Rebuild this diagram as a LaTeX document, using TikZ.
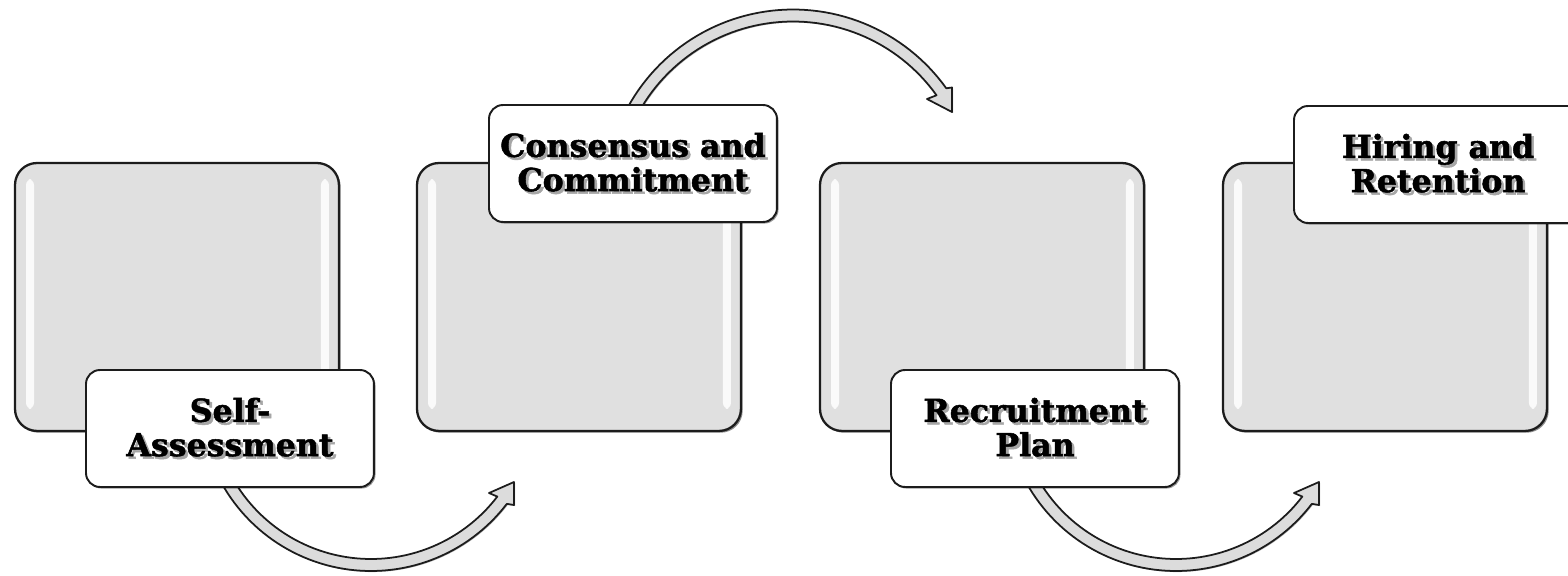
\documentclass[tikz,border=0pt]{standalone}
\usepackage{fontspec}
\setmainfont{DejaVu Serif}[BoldFeatures={FakeBold=1.6}]
\usetikzlibrary{shadows}
\definecolor{boxgray}{HTML}{E0E0E0}
\definecolor{arrowgray}{HTML}{DCDCDC}
\definecolor{edge}{HTML}{1C1C1C}
\newcommand\shtxt[1]{\leavevmode\rlap{\hspace{1.5pt}\raisebox{-1.5pt}{\textcolor{black!35}{#1}}}#1}
\begin{document}
\begin{tikzpicture}[x=0.02cm,y=-0.02cm,
  bigbox/.style={draw=edge, line width=1.3pt, fill=boxgray, rounded corners=0.44cm,
    minimum width=6.48cm, minimum height=5.36cm, inner sep=0pt, outer sep=0pt, anchor=north west,
    drop shadow={shadow xshift=1pt, shadow yshift=-1pt, opacity=0.45, fill=black}},
  lbl/.style={draw=edge, line width=1.1pt, fill=white, rounded corners=0.28cm,
    minimum width=5.76cm, minimum height=2.34cm, inner sep=0pt, outer sep=0pt, anchor=north west,
    align=center, font=\fontsize{18}{19.5}\selectfont\bfseries,
    drop shadow={shadow xshift=0.9pt, shadow yshift=-0.9pt, opacity=0.4, fill=black}},
  carrow/.style={draw=edge, line width=1pt, fill=arrowgray, line join=round,
    drop shadow={shadow xshift=0.6pt, shadow yshift=-0.6pt, opacity=0.3, fill=black}},
  gloss/.style={rounded corners=3.5pt, fill=white, opacity=0.85, draw=none}
]
\useasboundingbox (0,0) rectangle (1568,575);
\clip (0,0) rectangle (1568,575);
\fill[white] (0,0) rectangle (1568,575);

% main boxes
\node[bigbox] (b1) at (15,163) {};
\node[bigbox] (b2) at (417,163) {};
\node[bigbox] (b3) at (820,163) {};
\node[bigbox] (b4) at (1223,163) {};
\foreach \b in {b1,b2,b3,b4} {
  \path[gloss] ([shift={(11,16)}]\b.north west) rectangle ([shift={(19,-22)}]\b.south west);
  \path[gloss] ([shift={(-18,16)}]\b.north east) rectangle ([shift={(-10,-22)}]\b.south east);
}

% curved arrows
\draw[carrow] plot[domain=155:37.4, samples=60] ({371+171*cos(\x)},{400+171*sin(\x)})
  -- (514,505) -- (514,482) -- (489,493)
  -- plot[domain=37.4:155, samples=60] ({371+159*cos(\x)},{400+159*sin(\x)}) -- cycle;
\draw[carrow] plot[domain=205:324.4, samples=60] ({793+188.5*cos(\x)},{198+188.5*sin(\x)})
  -- (952,87.5) -- (952,112) -- (927,99)
  -- plot[domain=324.4:205, samples=60] ({793+176.5*cos(\x)},{198+176.5*sin(\x)}) -- cycle;
\begin{scope}[shift={(805,0)}]
\draw[carrow] plot[domain=155:37.4, samples=60] ({371+171*cos(\x)},{400+171*sin(\x)})
  -- (514,505) -- (514,482) -- (489,493)
  -- plot[domain=37.4:155, samples=60] ({371+159*cos(\x)},{400+159*sin(\x)}) -- cycle;
\end{scope}

% labels
\node[lbl] (l1) at (86,370) {\shtxt{Self-}\\\shtxt{Assessment}};
\node[lbl] (l2) at (489,105) {\shtxt{Consensus and}\\\shtxt{Commitment}};
\node[lbl] (l3) at (891,370) {\shtxt{Recruitment}\\\shtxt{Plan}};
\node[lbl] (l4) at (1294,106) {\shtxt{Hiring and}\\\shtxt{Retention}};
\end{tikzpicture}
\end{document}
